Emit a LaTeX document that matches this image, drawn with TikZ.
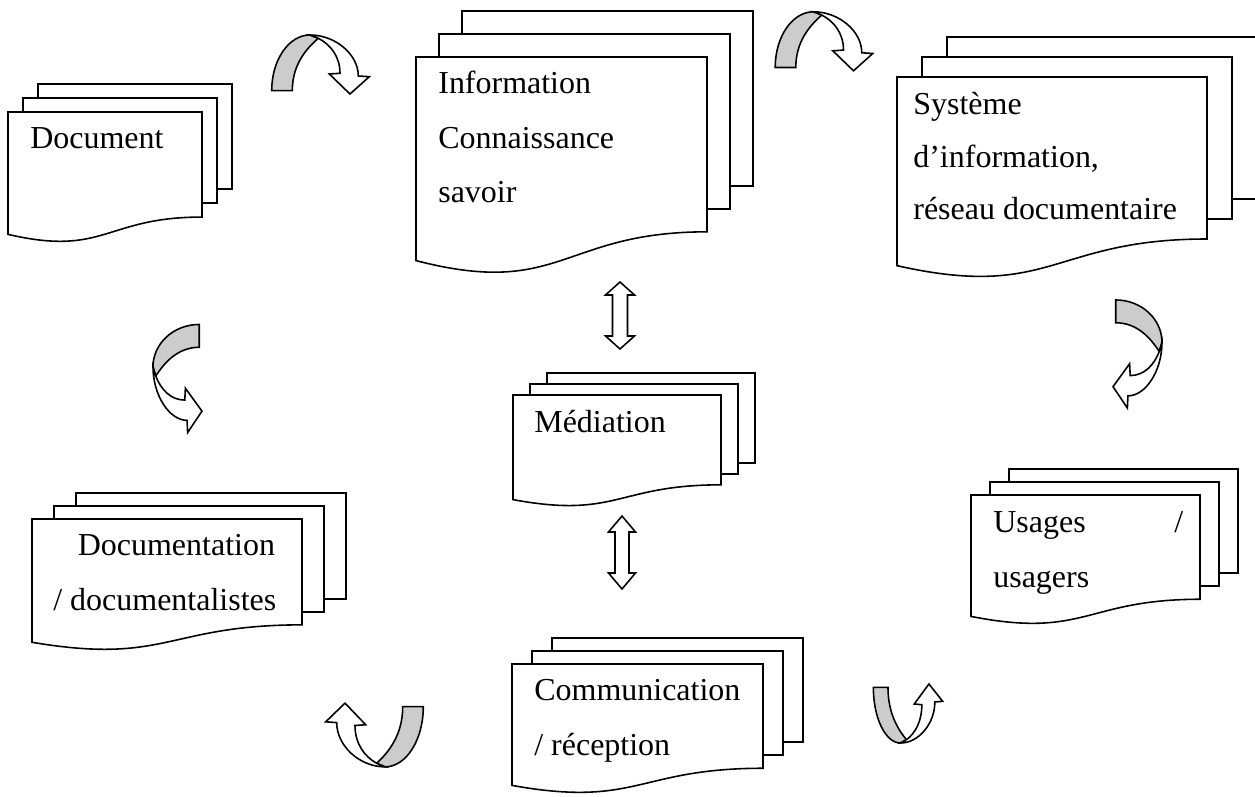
\documentclass[tikz,border=0pt]{standalone}
\usepackage{fontspec}
\setmainfont{Liberation Serif}

\begin{document}
\begin{tikzpicture}[x=0.02cm, y=-0.02cm]
                \tikzset{PageStyle/.style = {draw, fill=white, line width=0.9pt}}
                \tikzset{BackStyle/.style = {draw, fill=black!20, line width=0.9pt}}
                \tikzset{FrontStyle/.style = {draw, fill=white, line width=0.9pt}}
                % base anchor = baseline of the last line
                \tikzset{TextStyle/.style = {anchor=base west, inner sep=0pt, align=left,
                    font=\fontsize{18.2pt}{31.3pt}\selectfont}}
                % stack of three pages: width, height, shift x, shift y
                \tikzset{pics/Stack/.style n args={4}{code={
                    \draw[PageStyle] (2*#3,-2*#4) rectangle (#1+2*#3,0.802*#2-2*#4);
                    \draw[PageStyle] (#3,-#4) rectangle (#1+#3,0.802*#2-#4);
                    \draw[PageStyle] (0,0) -- (#1,0) -- (#1,0.802*#2)
                        .. controls (0.5*#1,0.802*#2) and (0.5*#1,1.107*#2) .. (0,0.934*#2) -- cycle;}}}
                % curved turn arrow
                \tikzset{pics/Turn/.style={code={
                    \draw[BackStyle] (-48.8,26.2) .. controls (-48.8,-4.6) and (-31.7,-29.5) .. (-10.5,-29.5)
                        -- (-2.2,-26.2) .. controls (-14,-16) and (-28.2,0) .. (-28.2,26.2) -- cycle;
                    \draw[FrontStyle] (-10.5,-29.5) .. controls (15,-29.5) and (37.8,-10) .. (37.8,11.5)
                        -- (48.8,12.2) -- (29.5,29.5) -- (8.8,9.5) -- (19.5,8.8)
                        .. controls (19.5,-8) and (10,-20) .. (-2.2,-26.2) -- cycle;}}}
                % double arrow: half length, head, shaft, head length
                \tikzset{pics/UpDown/.style n args={4}{code={
                    \draw[FrontStyle] (0,-#1) -- (#2,-#1+#4) -- (#3,-#1+#4) -- (#3,#1-#4) -- (#2,#1-#4)
                        -- (0,#1) -- (-#2,#1-#4) -- (-#3,#1-#4) -- (-#3,-#1+#4) -- (-#2,-#1+#4) -- cycle;}}}
                \useasboundingbox (0,0) rectangle (1255,797);

                \pic at (8,112) {Stack={194}{131}{15}{14}};
                \pic at (416,57) {Stack={291}{218}{23}{23}};
                \pic at (897,77) {Stack={310}{202}{25}{20}};
                \pic at (513,395) {Stack={208}{112}{17}{11}};
                \pic at (32,519) {Stack={270}{132}{22}{13}};
                \pic at (971,495) {Stack={229}{130}{19}{13}};
                \pic at (512,664) {Stack={251}{130}{20}{13}};

                \node[TextStyle] (doc) at (30,149) {Document};
                \node[TextStyle] (info) at (438,203) {Information\\Connaissance\\savoir};
                \node[TextStyle, font=\fontsize{18.2pt}{29.9pt}\selectfont] (sys) at (913,220)
                    {Système\\d’information,\\réseau documentaire};
                \node[TextStyle] (med) at (534,432) {Médiation};
                \node[TextStyle] (docu) at (53,610) {\hspace*{0.49cm}Documentation\\/ documentalistes};
                \node[TextStyle] (usa) at (993,587) {\makebox[3.8cm][l]{Usages\hfill/}\\usagers};
                \node[TextStyle] (comm) at (534,755) {Communication\\/ réception};

                \pic at (620,315.5) {UpDown={33.5}{14.5}{7.5}{13}};
                \pic at (622,552.5) {UpDown={36.5}{13.5}{7}{16}};

                \pic at (320.5,64.5) {Turn};
                \pic at (824,41.3) {Turn};
                \pic[rotate=-90, xscale=1.107, yscale=0.83] at (1137.5,354) {Turn};
                \pic[xscale=-1, rotate=-90, xscale=1.107, yscale=0.83] at (177.5,378.5) {Turn};
                \pic[rotate=180, yscale=1.08] at (374.5,735) {Turn};
                \pic[yscale=-1, xscale=0.71] at (908,713.5) {Turn};
            \end{tikzpicture}
\end{document}
